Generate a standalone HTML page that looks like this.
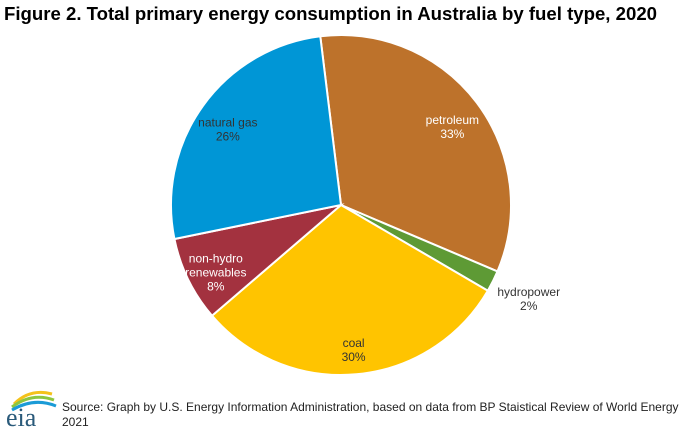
<!DOCTYPE html>
<html><head><meta charset="utf-8">
<style>
html,body{margin:0;padding:0;background:#fff;width:687px;height:431px;overflow:hidden;font-family:"Liberation Sans",sans-serif;}
#title{position:absolute;left:4px;top:3px;font-size:18.6px;font-weight:bold;color:#000;white-space:nowrap;}
#source{position:absolute;left:62px;top:400px;font-size:12px;color:#222;line-height:15px;}
svg{position:absolute;left:0;top:0;}
</style></head><body>
<div id="title">Figure 2. Total primary energy consumption in Australia by fuel type, 2020</div>
<svg id="chart" width="687" height="431">
  <g id="logo">
    <path d="M14 404 Q30 388 52 394" stroke="#f4c21a" stroke-width="3" fill="none"/>
    <path d="M12 407 Q32 392 54 400" stroke="#8cc63f" stroke-width="3" fill="none"/>
    <path d="M12 410 Q34 397 56 406" stroke="#1a9bd7" stroke-width="3" fill="none"/>
    <text x="6" y="426" font-family="Liberation Serif,serif" font-size="26" fill="#2a5a7a">eia</text>
  </g>
</svg>
<div id="source">Source: Graph by U.S. Energy Information Administration, based on data from BP Staistical Review of World Energy<br>2021</div>
<script>
const categories = ["petroleum","hydropower","coal","non-hydro renewables","natural gas"];
const values = [33,2,30,8,26];
const labels = ["33%","2%","30%","8%","26%"];
const colors = ["#bd722b","#5e9a35","#ffc400","#a3323f","#0096d6"];
const textColors = ["#fff","#333","#333","#fff","#333"];
const cx=341, cy=205, R=170, startDeg=-7;
const svg=document.getElementById('chart');
const NS='http://www.w3.org/2000/svg';
const total=values.reduce((a,b)=>a+b,0);
function pt(deg,r){const a=(deg-90)*Math.PI/180;return [cx+r*Math.cos(a),cy+r*Math.sin(a)];}
let a0=startDeg;
values.forEach((v,i)=>{
  const sweep=v/total*360, a1=a0+sweep;
  const p0=pt(a0,R), p1=pt(a1,R);
  const path=document.createElementNS(NS,'path');
  path.setAttribute('d',`M${cx},${cy} L${p0[0]},${p0[1]} A${R},${R} 0 ${sweep>180?1:0} 1 ${p1[0]},${p1[1]} Z`);
  path.setAttribute('fill',colors[i]);
  path.setAttribute('stroke','#fff');
  path.setAttribute('stroke-width','2');
  
  
  svg.appendChild(path);
  const mid=a0+sweep/2;
  const outside = sweep<15;
  const lp=pt(mid, outside?R+40:R*0.82);
  if(!outside) lp[1]+=6;
  const g=document.createElementNS(NS,'text');
  
  
  g.setAttribute('text-anchor','middle');
  g.setAttribute('font-size','12');
  g.setAttribute('fill',textColors[i]);
  const words = categories[i]==="non-hydro renewables" ? ["non-hydro","renewables"] : [categories[i]];
  const lines=words.concat([labels[i]]);
  lines.forEach((t,k)=>{
    const ts=document.createElementNS(NS,'tspan');
    ts.setAttribute('x',lp[0]);
    ts.setAttribute('y',lp[1]+(k-(lines.length-1)/2)*14+4);
    ts.textContent=t;
    g.appendChild(ts);
  });
  svg.appendChild(g);
  a0=a1;
});
</script>
</body></html>
